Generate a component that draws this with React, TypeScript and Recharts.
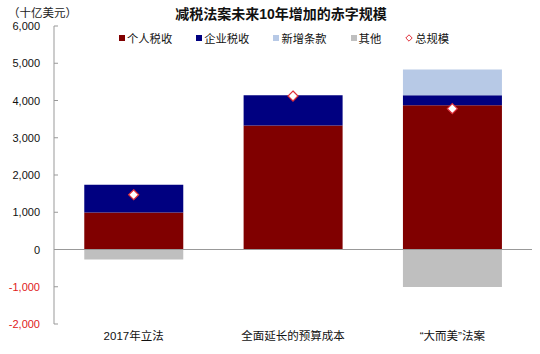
import React from 'react';
import { ComposedChart, Bar, Line, XAxis, YAxis, ReferenceLine } from 'recharts';

const categories = ['2017年立法', '全面延长的预算成本', '“大而美”法案'];
const personalTax = [990, 3330, 3870];
const corporateTax = [750, 810, 270];
const newProvisions = [0, 0, 690];
const other = [-270, 0, -1010];
const totalSize = [1470, 4120, 3780];
const yTicks = [-2000, -1000, 0, 1000, 2000, 3000, 4000, 5000, 6000];

const FONT = '"Liberation Sans", Arial, "Noto Sans CJK SC", sans-serif';

const data = categories.map((name, i) => ({
    name,
    personal: personalTax[i],
    corporate: corporateTax[i],
    added: newProvisions[i],
    other: other[i],
    total: totalSize[i],
}));

const legendItems = [
    { label: '个人税收', color: '#800000', type: 'square' },
    { label: '企业税收', color: '#000080', type: 'square' },
    { label: '新增条款', color: '#B7C9E6', type: 'square' },
    { label: '其他', color: '#BFBFBF', type: 'square' },
    { label: '总规模', color: '#E0303A', type: 'diamond' },
];

// tick label + short inward tick mark (axis sits at x + 2)
const YTick = (props: any) => {
    const { x, y, payload } = props;
    const v = payload.value as number;
    return (
        <g>
            <line x1={x + 2} x2={x + 6} y1={y} y2={y} stroke="#999" />
            <text x={x - 12} y={y} dy={4} textAnchor="end" fontSize={11} fontFamily={FONT} fill={v < 0 ? '#E02020' : '#111'}>
                {v.toLocaleString('en-US')}
            </text>
        </g>
    );
};

const Diamond = (props: any) => {
    const { cx, cy, index } = props;
    if (cx == null || cy == null) return <g key={index} />;
    const s = 5;
    return (
        <path
            key={index}
            d={`M${cx},${cy - s}L${cx + s},${cy}L${cx},${cy + s}L${cx - s},${cy}Z`}
            fill="#fff"
            stroke="#E0303A"
            strokeWidth={1.2}
        />
    );
};

export default function App() {
    return (
        <div style={{ position: 'absolute', left: 0, top: 0, width: 540, height: 354, background: '#fff', fontFamily: FONT }}>
            {/* unit label and title */}
            <div style={{ position: 'absolute', left: 8, top: 4, fontSize: 11.5, color: '#222' }}>（十亿美元）</div>
            <div style={{ position: 'absolute', left: 0, width: 540, top: 3, textAlign: 'center', fontSize: 14, fontWeight: 'bold', color: '#111', paddingLeft: 22, boxSizing: 'border-box' }}>
                减税法案未来10年增加的赤字规模
            </div>

            {/* legend */}
            <div style={{ position: 'absolute', left: 119, top: 30, display: 'flex', fontSize: 11.3, color: '#111', zIndex: 2 }}>
                {legendItems.map((it) => (
                    <div key={it.label} style={{ display: 'flex', alignItems: 'center', marginRight: 24 }}>
                        {it.type === 'square' ? (
                            <span style={{ width: 6, height: 6, background: it.color, marginRight: 2, display: 'inline-block' }} />
                        ) : (
                            <svg width={8} height={8} style={{ marginRight: 2 }}>
                                <path d="M4,0.8L7.2,4L4,7.2L0.8,4Z" fill="#fff" stroke={it.color} strokeWidth={1} />
                            </svg>
                        )}
                        <span>{it.label}</span>
                    </div>
                ))}
            </div>

            <ComposedChart
                width={540}
                height={354}
                data={data}
                stackOffset="sign"
                barCategoryGap="19%"
                margin={{ top: 26, right: 8, bottom: 0, left: 0 }}
            >
                <XAxis
                    dataKey="name"
                    axisLine={false}
                    tickLine={false}
                    height={30}
                    tick={{ fontSize: 11.5, fill: '#111', fontFamily: FONT }}
                />
                <YAxis
                    width={54}
                    domain={[-2000, 6000]}
                    ticks={yTicks}
                    interval={0}
                    axisLine={{ stroke: '#999' }}
                    tickLine={false}
                    tickSize={0}
                    tick={<YTick />}
                />
                <Bar dataKey="personal" stackId="a" fill="#800000" isAnimationActive={false} />
                <Bar dataKey="corporate" stackId="a" fill="#000080" isAnimationActive={false} />
                <Bar dataKey="added" stackId="a" fill="#B7C9E6" isAnimationActive={false} />
                <Bar dataKey="other" stackId="a" fill="#BFBFBF" isAnimationActive={false} />
                <ReferenceLine y={0} stroke="#999" />
                <Line dataKey="total" stroke="none" dot={Diamond} activeDot={false} isAnimationActive={false} />
            </ComposedChart>
        </div>
    );
}
